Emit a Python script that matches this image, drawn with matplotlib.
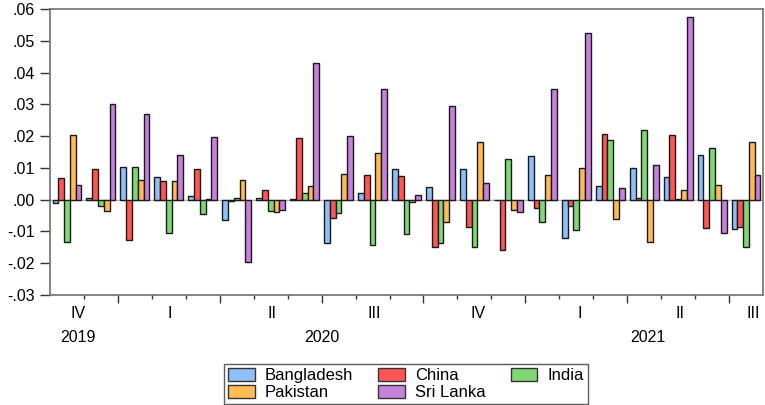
import matplotlib
matplotlib.use("Agg")
import matplotlib.pyplot as plt
import matplotlib.transforms as mtrans
from matplotlib.patches import Patch
import numpy as np

plt.rcParams['font.family'] = ['Liberation Sans', 'DejaVu Sans']

# Monthly data Nov 2019 - Jul 2021
months = ["2019-11", "2019-12", "2020-01", "2020-02", "2020-03", "2020-04", "2020-05",
          "2020-06", "2020-07", "2020-08", "2020-09", "2020-10", "2020-11", "2020-12",
          "2021-01", "2021-02", "2021-03", "2021-04", "2021-05", "2021-06", "2021-07"]
bangladesh = [-0.0012, 0.0005, 0.0104, 0.0071, 0.0013, -0.0065, 0.0005,
              0.0002, -0.0136, 0.0021, 0.0097, 0.0040, 0.0098, 0.0000,
              0.0137, -0.0121, 0.0044, 0.0099, 0.0071, 0.0141, -0.0093]
china = [0.0067, 0.0097, -0.0126, 0.0060, 0.0097, -0.0003, 0.0030,
         0.0193, -0.0058, 0.0079, 0.0073, -0.0150, -0.0086, -0.0157,
         -0.0027, -0.0021, 0.0207, 0.0004, 0.0205, -0.0088, -0.0087]
india = [-0.0133, -0.0019, 0.0102, -0.0106, -0.0044, 0.0005, -0.0035,
         0.0021, -0.0042, -0.0142, -0.0108, -0.0136, -0.0150, 0.0128,
         -0.0071, -0.0097, 0.0189, 0.0219, 0.0001, 0.0163, -0.0149]
pakistan = [0.0205, -0.0035, 0.0062, 0.0060, 0.0002, 0.0062, -0.0039,
            0.0042, 0.0081, 0.0148, -0.0008, -0.0070, 0.0180, -0.0031,
            0.0077, 0.0100, -0.0060, -0.0133, 0.0029, 0.0046, 0.0180]
srilanka = [0.0046, 0.0302, 0.0270, 0.0141, 0.0198, -0.0195, -0.0034,
            0.0430, 0.0200, 0.0347, 0.0015, 0.0294, 0.0052, -0.0038,
            0.0348, 0.0525, 0.0037, 0.0108, 0.0575, -0.0106, 0.0078]

series_names = ["Bangladesh", "China", "India", "Pakistan", "Sri Lanka"]
series = [bangladesh, china, india, pakistan, srilanka]
colors = ['#8FBFF7', '#FF5555', '#7FD873', '#FFBB55', '#C880DD']

quarter_labels = ["IV", "I", "II", "III", "IV", "I", "II", "III"]
quarter_pos = [0.82, 3.53, 6.53, 9.56, 12.6, 15.6, 18.56, 20.7]
quarter_bounds = [2, 5, 8, 11, 14, 17, 20]
year_labels = ["2019", "2020", "2021"]
year_pos = [0.82, 8.0, 17.6]
yticks = [0.06, 0.05, 0.04, 0.03, 0.02, 0.01, 0.0, -0.01, -0.02, -0.03]
ytick_labels = [".06", ".05", ".04", ".03", ".02", ".01", ".00", "-.01", "-.02", "-.03"]

W, H = 765, 405
fig = plt.figure(figsize=(W/100, H/100), dpi=100)
ax = fig.add_axes([50/W, 1-295/H, 713/W, 286/H])

n = len(months)
x = np.arange(n) + 0.5
bw = 0.17
for k, (name, vals, c) in enumerate(zip(series_names, series, colors)):
    ax.bar(x + (k-2)*bw, vals, width=bw, color=c, edgecolor='#1a1a1a',
           linewidth=1.0, zorder=3, label=name)

ax.axhline(0, color='#b0b0b0', lw=1.0, zorder=1)
ax.set_xlim(0, n)
ax.set_ylim(-0.03, 0.06)

for s in ax.spines.values():
    s.set_color('#707070')
    s.set_linewidth(1.2)

ax.set_yticks(yticks)
ax.set_yticklabels(ytick_labels, fontsize=11.5)
ax.tick_params(axis='y', direction='out', length=7, width=1, color='#333333', pad=4)

ax.set_xticks(quarter_bounds)
ax.set_xticklabels([])
ax.set_xticks(np.arange(1, n), minor=True)
ax.tick_params(axis='x', which='major', direction='out', length=5.5, width=1, color='#333333')
ax.tick_params(axis='x', which='minor', direction='out', length=3, width=1, color='#333333')

qtrans = ax.transData + mtrans.ScaledTranslation(0, -18/100, fig.dpi_scale_trans)
for lab, p in zip(quarter_labels, quarter_pos):
    ax.text(p, -0.03, lab, transform=qtrans, ha='center', va='center',
            fontsize=11.5, clip_on=False)
ytrans = ax.transData + mtrans.ScaledTranslation(0, -43/100, fig.dpi_scale_trans)
for lab, p in zip(year_labels, year_pos):
    ax.text(p, -0.03, lab, transform=ytrans, ha='center', va='center',
            fontsize=11.5, clip_on=False)

order = [0, 3, 1, 4, 2]
handles = [Patch(facecolor=colors[i], edgecolor='#333333', label=series_names[i]) for i in order]
leg = fig.legend(handles=handles, loc='center', bbox_to_anchor=(406/W, 1-384/H),
                 ncol=3, fontsize=12, frameon=True, fancybox=False, edgecolor='#333333',
                 handlelength=1.6, handleheight=0.8, columnspacing=1.5, handletextpad=0.6,
                 labelspacing=0.1, borderpad=0.25)
leg.get_frame().set_linewidth(1.0)

fig.savefig('out.png', dpi=100)
